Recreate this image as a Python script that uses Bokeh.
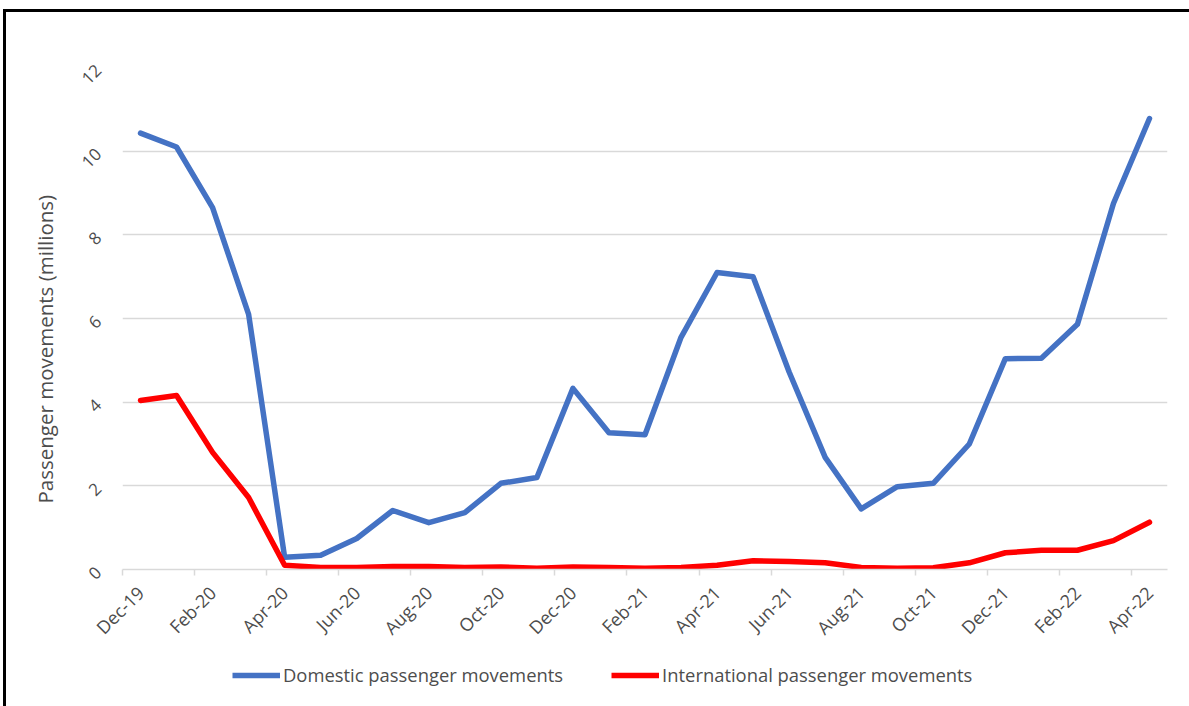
import math
from bokeh.plotting import figure
from bokeh.layouts import column
from bokeh.models import Range1d, FixedTicker, LinearAxis, Legend, LegendItem, Title
from bokeh.embed import file_html
from bokeh.resources import INLINE

months = ["Dec-19", "Jan-20", "Feb-20", "Mar-20", "Apr-20", "May-20", "Jun-20", "Jul-20",
          "Aug-20", "Sep-20", "Oct-20", "Nov-20", "Dec-20", "Jan-21", "Feb-21", "Mar-21",
          "Apr-21", "May-21", "Jun-21", "Jul-21", "Aug-21", "Sep-21", "Oct-21", "Nov-21",
          "Dec-21", "Jan-22", "Feb-22", "Mar-22", "Apr-22"]
domestic = [10.43, 10.1, 8.65, 6.1, 0.29, 0.34, 0.74, 1.41, 1.12, 1.36, 2.06, 2.2, 4.33,
            3.27, 3.22, 5.55, 7.1, 7.0, 4.72, 2.68, 1.45, 1.98, 2.06, 3.0, 5.04, 5.05, 5.86,
            8.75, 10.78]
international = [4.04, 4.16, 2.8, 1.72, 0.1, 0.05, 0.05, 0.07, 0.07, 0.05, 0.06, 0.03, 0.06,
                 0.05, 0.03, 0.05, 0.1, 0.21, 0.19, 0.16, 0.05, 0.03, 0.04, 0.16, 0.4, 0.46,
                 0.46, 0.69, 1.13]
series_names = ["Domestic passenger movements", "International passenger movements"]
y_title = "Passenger movements (millions)"
y_ticks = [0, 2, 4, 6, 8, 10, 12]

x = list(range(len(months)))
n = len(months)
FONT = "Open Sans"
GRAY_TXT = "#4d4d4d"
GRID = "#d9d9d9"
BLUE = "#4472C4"
RED = "#FF0000"

p = figure(width=1183, height=650, output_backend="svg", toolbar_location=None,
           x_range=Range1d(-0.5, n - 0.5), y_range=Range1d(0, 12),
           min_border_left=116, min_border_right=22, min_border_top=55,
           min_border_bottom=93, x_axis_location=None)
p.outline_line_color = None
p.background_fill_color = "white"
p.border_fill_color = "white"

# y axis
p.yaxis.ticker = FixedTicker(ticks=y_ticks)
p.yaxis.axis_line_color = None
p.yaxis.major_tick_line_color = None
p.yaxis.minor_tick_line_color = None
p.yaxis.major_label_orientation = math.pi / 4
p.yaxis.major_label_text_font = FONT
p.yaxis.major_label_text_font_size = "17px"
p.yaxis.major_label_text_color = GRAY_TXT
p.yaxis.major_label_standoff = 18

p.add_layout(Title(text=y_title, align="left", offset=66, standoff=30,
                   text_font=FONT, text_font_size="20.5px", text_font_style="normal",
                   text_color=GRAY_TXT), "left")

p.ygrid.ticker = FixedTicker(ticks=y_ticks)
p.ygrid.grid_line_color = GRID
p.ygrid.grid_line_width = 1.5
p.xgrid.grid_line_color = None

# x axis: tick marks at category boundaries
tick_axis = LinearAxis(ticker=FixedTicker(ticks=[i - 0.5 for i in range(0, n + 1, 2)]),
                       axis_line_color=GRID, axis_line_width=1.5,
                       major_tick_line_color=GRID, major_tick_line_width=1.5,
                       major_tick_in=0, major_tick_out=6, minor_tick_line_color=None,
                       major_label_text_font_size="0px", major_label_text_alpha=0)
# labels at category centers
label_idx = list(range(0, n, 2))
label_axis = LinearAxis(ticker=FixedTicker(ticks=label_idx),
                        axis_line_color=None, major_tick_line_color=None,
                        minor_tick_line_color=None,
                        major_label_overrides={i: months[i] for i in label_idx},
                        major_label_orientation=math.pi / 4,
                        major_label_text_font=FONT, major_label_text_font_size="18px",
                        major_label_text_color=GRAY_TXT, major_label_standoff=8)
p.add_layout(tick_axis, "below")
p.add_layout(label_axis, "below")

p.line(x, domestic, line_color=BLUE, line_width=5.5, line_join="round", line_cap="round")
p.line(x, international, line_color=RED, line_width=5.5, line_join="round", line_cap="round")

# legend strip below the chart (series proxies lie outside its visible range)
leg = figure(width=1183, height=44, output_backend="svg", toolbar_location=None,
             x_range=Range1d(-100, -99), y_range=Range1d(-100, -99),
             x_axis_location=None, y_axis_location=None,
             min_border_left=0, min_border_right=0, min_border_top=0, min_border_bottom=0)
leg.outline_line_color = None
leg.xgrid.grid_line_color = None
leg.ygrid.grid_line_color = None
lr1 = leg.line(x, domestic, line_color=BLUE, line_width=5.5)
lr2 = leg.line(x, international, line_color=RED, line_width=5.5)
legend = Legend(items=[LegendItem(label=series_names[0], renderers=[lr1]),
                       LegendItem(label=series_names[1], renderers=[lr2])],
                orientation="horizontal", location=(110, 19),
                label_text_font=FONT, label_text_font_size="18.4px", label_text_color=GRAY_TXT,
                glyph_width=48, glyph_height=20, label_height=20, label_standoff=3,
                spacing=48, padding=0, margin=0, border_line_color=None,
                background_fill_alpha=0)
leg.add_layout(legend, "center")

layout = column(p, leg, spacing=0,
                styles={"border-top": "3px solid black", "border-left": "3px solid black",
                        "margin-left": "3px", "margin-top": "9px"})

open("out.html", "w").write(file_html(layout, INLINE))
